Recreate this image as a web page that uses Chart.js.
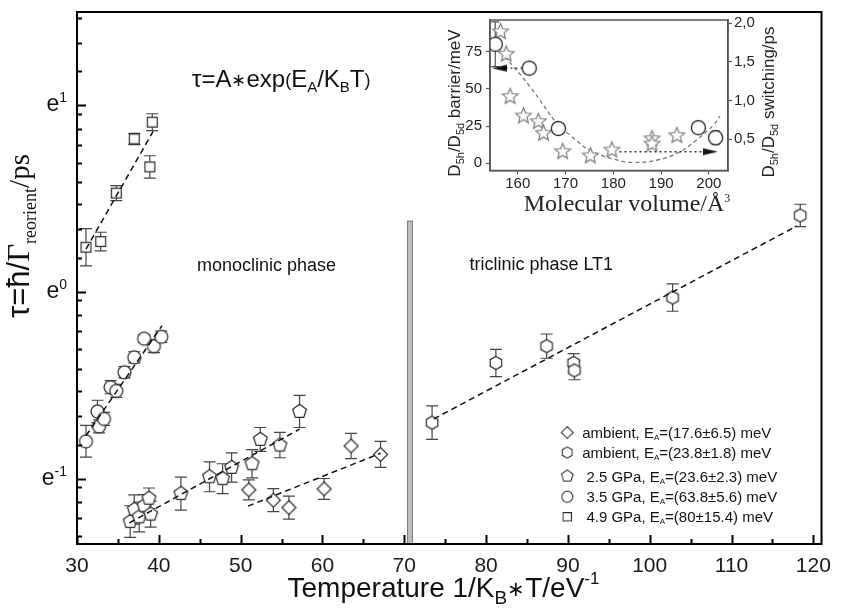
<!doctype html>
<html>
<head>
<title>Reorientation time vs 1/kT</title>
<script src="https://cdn.jsdelivr.net/npm/chart.js@4.4.0/dist/chart.umd.min.js"></script>
<style>
body{margin:0;background:#fff;}
#wrap{position:relative;width:841px;height:616px;}
#main{position:absolute;left:0;top:0;}
#inset{position:absolute;left:420px;top:0;}
</style>
</head>
<body>
<div id="wrap">
	<canvas id="main" width="841" height="616"></canvas>
	<canvas id="inset" width="421" height="230"></canvas>
</div>
<script>
// main plot: x = 1/(kB*T) in eV^-1, y = ln(tau/ps) (axis labelled in powers of e)
const gpa49X = [31.1, 32.9, 34.8, 37.0, 38.9, 39.2];
const gpa49Y = [0.24, 0.27, 0.53, 0.82, 0.67, 0.91];
const gpa49Err = [0.10, 0.05, 0.04, 0.03, 0.06, 0.045];

const gpa35X = [31.1, 32.5, 32.7, 33.3, 34.1, 34.8, 35.8, 37.0, 38.2, 39.4, 40.3];
const gpa35Y = [-0.80, -0.64, -0.72, -0.68, -0.51, -0.53, -0.43, -0.35, -0.25, -0.29, -0.24];
const gpa35Err = [0.085, 0.06, 0.035, 0.035, 0.035, 0.035, 0.03, 0.03, 0.02, 0.035, 0.03];

const gpa25X = [36.5, 37.0, 37.6, 38.2, 38.8, 39.0, 42.7, 46.2, 47.8, 48.9, 51.4, 52.4, 54.8, 57.2];
const gpa25Y = [-1.23, -1.165, -1.205, -1.145, -1.105, -1.19, -1.08, -0.99, -1.0, -0.94, -0.92, -0.79, -0.82, -0.64];
const gpa25Err = [0.085, 0.078, 0.08, 0.06, 0.055, 0.07, 0.088, 0.08, 0.08, 0.078, 0.076, 0.064, 0.068, 0.086];

const ambMonoX = [51.0, 54.0, 55.9, 60.2, 63.5, 67.1];
const ambMonoY = [-1.06, -1.115, -1.155, -1.055, -0.825, -0.87];
const ambMonoErr = [0.054, 0.062, 0.062, 0.056, 0.068, 0.07];

const ambTriX = [73.4, 81.2, 87.4, 90.7, 90.8, 102.8, 118.4];
const ambTriY = [-0.70, -0.38, -0.29, -0.38, -0.42, -0.03, 0.41];
const ambTriErr = [0.09, 0.073, 0.065, 0.05, 0.05, 0.073, 0.06];

// dashed Arrhenius fits, end points
const fit49X = [31.1, 39.3], fit49Y = [0.23, 0.86];
const fit35X = [31.1, 40.4], fit35Y = [-0.77, -0.18];
const fit25X = [36.4, 57.2], fit25Y = [-1.237, -0.735];
const fitMonoX = [50.9, 67.1], fitMonoY = [-1.147, -0.864];
const fitTriX = [73.6, 118.0], fitTriY = [-0.68, 0.354];

const phaseBoundaryX = [70.4, 71.0];
const phaseBoundaryTop = 0.38;

const xTicks = [30, 40, 50, 60, 70, 80, 90, 100, 110, 120];
const yTickExp = [-1, 0, 1];

const legendNames = ['ambient, E', 'ambient, E', ' 2.5 GPa, E', ' 3.5 GPa, E', ' 4.9 GPa, E'];
const legendValues = ['=(17.6\u00b16.5) meV', '=(23.8\u00b11.8) meV', '=(23.6\u00b12.3) meV', '=(63.8\u00b15.6) meV', '=(80\u00b115.4) meV'];

// inset: D5h/D5d barrier (stars, left) and switching time (circles, right) vs molecular volume
const insetStarX = [156.4, 157.6, 158.4, 161.2, 164.3, 165.4, 169.4, 175.2, 179.7, 188.1, 188.1, 193.3];
const insetStarY = [88.4, 73.3, 44.8, 31.8, 28.0, 20.2, 7.8, 5.0, 8.9, 16.5, 13.0, 18.6];
const insetCircX = [155.3, 162.4, 168.5, 197.8, 201.4];
const insetCircY = [1.73, 1.42, 0.64, 0.65, 0.52];
const insetCircErr = [0.29, 0.07, 0.05, 0.05, 0.09];
const insetGuideX = [157.3, 162.6, 168.5, 171, 175, 179.7, 184.2, 189.8, 194, 197.4, 200.9, 202.3];
const insetGuideY = [1.57, 1.18, 0.68, 0.55, 0.36, 0.25, 0.20, 0.24, 0.34, 0.49, 0.68, 0.80];
const arrowLeftX = [161.0, 156.2], arrowLeftY = [1.42, 1.42];
const arrowRightX = [181.3, 200.3], arrowRightY = [7.8, 7.8];

const SANS = '"Liberation Sans", Arial, sans-serif';
const SERIF = '"Liberation Serif", "Times New Roman", serif';
Chart.defaults.font.family = SANS;

function pts(xs, ys) {
	return xs.map((x, i) => ({x: x, y: ys[i]}));
}

function shape(n, R, rot, inner, stroke, lw) {
	const s = Math.ceil(2 * R + lw + 3);
	const c = document.createElement('canvas');
	c.width = c.height = s;
	const g = c.getContext('2d');
	const m = s / 2;
	const k = inner ? n * 2 : n;
	g.beginPath();
	for (let i = 0; i < k; i++) {
		const r = inner && i % 2 ? R * inner : R;
		const a = rot + i * 2 * Math.PI / k;
		g.lineTo(m + r * Math.cos(a), m + r * Math.sin(a));
	}
	g.closePath();
	g.fillStyle = '#fff';
	g.fill();
	g.strokeStyle = stroke;
	g.lineWidth = lw;
	g.stroke();
	return c;
}

function arrowHead(dir) {
	const c = document.createElement('canvas');
	c.width = 15; c.height = 9;
	const g = c.getContext('2d');
	g.beginPath();
	if (dir < 0) { g.moveTo(0, 4.5); g.lineTo(15, 1); g.lineTo(15, 8); }
	else { g.moveTo(15, 4.5); g.lineTo(0, 1); g.lineTo(0, 8); }
	g.closePath();
	g.fillStyle = '#111';
	g.fill();
	return c;
}

const MK = '#2a2a2a';
const mDiamond = shape(4, 7, -Math.PI / 2, 0, MK, 1.2);
const mHexagon = shape(6, 6.6, -Math.PI / 2, 0, MK, 1.2);
const mPentagon = shape(5, 7.2, -Math.PI / 2, 0, MK, 1.2);
const mCircle = shape(40, 6.4, 0, 0, MK, 1.2);
const mSquare = shape(4, 7, Math.PI / 4, 0, MK, 1.2);
const mStar = shape(5, 8.2, -Math.PI / 2, 0.45, '#7a7a7a', 1.2);
const mCircleInset = shape(40, 7, 0, 0, '#222', 1.3);

function drawRuns(ctx, x, y, runs) {
	runs.forEach(r => {
		ctx.font = r.f;
		ctx.fillText(r.t, x, y + (r.dy || 0));
		x += ctx.measureText(r.t).width;
	});
	return x;
}
function runsWidth(ctx, runs) {
	let w = 0;
	runs.forEach(r => { ctx.font = r.f; w += ctx.measureText(r.t).width; });
	return w;
}

// vertical error bars for every dataset that carries an "errors" array
const errorBars = {
	id: 'errorBars',
	beforeDatasetsDraw(chart) {
		const ctx = chart.ctx;
		chart.data.datasets.forEach((ds, i) => {
			if (!ds.errors) return;
			const meta = chart.getDatasetMeta(i);
			const xs = chart.scales[meta.xAxisID], ys = chart.scales[meta.yAxisID];
			ctx.save();
			ctx.strokeStyle = ds.errorColor || '#444';
			ctx.lineWidth = 1.2;
			ds.data.forEach((p, j) => {
				const e = ds.errors[j];
				const px = xs.getPixelForValue(p.x);
				const y1 = ys.getPixelForValue(p.y + e), y2 = ys.getPixelForValue(p.y - e);
				const w = ds.capWidth || 6;
				ctx.beginPath();
				ctx.moveTo(px, y1); ctx.lineTo(px, y2);
				ctx.moveTo(px - w, y1); ctx.lineTo(px + w, y1);
				ctx.moveTo(px - w, y2); ctx.lineTo(px + w, y2);
				ctx.stroke();
			});
			ctx.restore();
		});
	}
};

const mainDecor = {
	id: 'mainDecor',
	beforeDatasetsDraw(chart) {
		const ctx = chart.ctx, xs = chart.scales.x, ys = chart.scales.y;
		const x1 = xs.getPixelForValue(phaseBoundaryX[0]), x2 = xs.getPixelForValue(phaseBoundaryX[1]);
		const yt = ys.getPixelForValue(phaseBoundaryTop), yb = chart.chartArea.bottom;
		ctx.save();
		ctx.fillStyle = '#bdbdbd';
		ctx.fillRect(x1, yt, x2 - x1, yb - yt);
		ctx.strokeStyle = '#7a7a7a';
		ctx.lineWidth = 1;
		ctx.strokeRect(x1, yt, x2 - x1, yb - yt);
		ctx.restore();
	},
	afterDraw(chart) {
		const ctx = chart.ctx, a = chart.chartArea, xs = chart.scales.x, ys = chart.scales.y;
		ctx.save();
		ctx.strokeStyle = '#000';
		ctx.fillStyle = '#111';
		ctx.lineWidth = 2;
		ctx.strokeRect(a.left, a.top, a.right - a.left, a.bottom - a.top);

		// inward ticks, x: major every 10, minor every 5
		ctx.beginPath();
		for (let v = xs.min; v <= xs.max; v += 5) {
			const px = Math.round(xs.getPixelForValue(v)) + 0.5;
			const len = v % 10 === 0 ? 9 : 5;
			ctx.moveTo(px, a.bottom); ctx.lineTo(px, a.bottom - len);
		}
		// inward ticks, y: majors at e^n, minors at e^n*(1+k/5)
		for (let n = -2; n <= 1; n++) {
			for (let k = 0; k <= 8; k++) {
				const v = n + Math.log(1 + k / 5);
				if (v < ys.min || v > ys.max) continue;
				const py = Math.round(ys.getPixelForValue(v)) + 0.5;
				ctx.moveTo(a.left, py); ctx.lineTo(a.left + (k === 0 ? 9 : 5), py);
			}
		}
		ctx.stroke();

		// y tick labels e^n
		ctx.textBaseline = 'alphabetic';
		ctx.textAlign = 'left';
		yTickExp.forEach(n => {
			const py = ys.getPixelForValue(n);
			const runs = [{t: 'e', f: '23px ' + SANS, dy: 6}, {t: String(n), f: '14px ' + SANS, dy: -3}];
			drawRuns(ctx, a.left - 10 - runsWidth(ctx, runs), py, runs);
		});

		// axis titles
		const xRuns = [
			{t: 'Temperature 1/K', f: '28px ' + SANS},
			{t: 'B', f: '19px ' + SANS, dy: 7},
			{t: '\u2217', f: '21px ' + SANS, dy: -1},
			{t: 'T/eV', f: '28px ' + SANS},
			{t: '-1', f: '17px ' + SANS, dy: -13}
		];
		drawRuns(ctx, 443.5 - runsWidth(ctx, xRuns) / 2, 597, xRuns);

		const yRuns = [
			{t: '\u03c4=\u0127/', f: '31px ' + SANS},
			{t: '\u0393', f: '31px ' + SERIF},
			{t: 'reorient', f: '18px ' + SERIF, dy: 7},
			{t: '/ps', f: '29px ' + SERIF}
		];
		ctx.save();
		ctx.translate(29, 318);
		ctx.rotate(-Math.PI / 2);
		drawRuns(ctx, 0, 0, yRuns);
		ctx.restore();

		// formula and phase labels
		drawRuns(ctx, xs.getPixelForValue(44.05), ys.getPixelForValue(1.097), [
			{t: '\u03c4=A', f: '24px ' + SANS},
			{t: '\u2217', f: '18px ' + SANS, dy: -1},
			{t: 'exp', f: '24px ' + SANS},
			{t: '(', f: '18px ' + SANS, dy: -1},
			{t: 'E', f: '24px ' + SANS},
			{t: 'A', f: '15px ' + SANS, dy: 5},
			{t: '/K', f: '24px ' + SANS},
			{t: 'B', f: '15px ' + SANS, dy: 5},
			{t: 'T', f: '24px ' + SANS},
			{t: ')', f: '18px ' + SANS, dy: -1}
		]);
		ctx.font = '18px ' + SANS;
		ctx.fillText('monoclinic phase', xs.getPixelForValue(44.66), ys.getPixelForValue(0.113));
		ctx.fillText('triclinic phase LT1', xs.getPixelForValue(77.96), ys.getPixelForValue(0.119));

		// legend
		const marks = [mDiamond, mHexagon, mPentagon, mCircle, mSquare];
		const rowsY = [-0.753, -0.86, -0.986, -1.097, -1.204];
		const sx = xs.getPixelForValue(89.92);
		rowsY.forEach((v, i) => {
			const py = ys.getPixelForValue(v);
			const m = marks[i];
			ctx.save();
			ctx.translate(sx, py);
			ctx.scale(0.85, 0.85);
			ctx.drawImage(m, -m.width / 2, -m.height / 2);
			ctx.restore();
			drawRuns(ctx, sx + 15, py + 5.5, [
				{t: legendNames[i], f: '15px ' + SANS},
				{t: 'A', f: '8px ' + SANS, dy: 2},
				{t: legendValues[i], f: '15px ' + SANS}
			]);
		});
		ctx.restore();
	}
};

function scatterSet(xs, ys, errs, marker) {
	return {data: pts(xs, ys), errors: errs, pointStyle: marker, pointRadius: 7, showLine: false, capWidth: 6};
}
function fitSet(xs, ys) {
	return {data: pts(xs, ys), showLine: true, borderColor: '#111', borderWidth: 1.5, borderDash: [6, 4], pointRadius: 0, fill: false};
}

new Chart(document.getElementById('main'), {
	type: 'scatter',
	data: {
		datasets: [
			fitSet(fit49X, fit49Y),
			fitSet(fit35X, fit35Y),
			fitSet(fit25X, fit25Y),
			fitSet(fitMonoX, fitMonoY),
			fitSet(fitTriX, fitTriY),
			scatterSet(gpa49X, gpa49Y, gpa49Err, mSquare),
			scatterSet(gpa35X, gpa35Y, gpa35Err, mCircle),
			scatterSet(gpa25X, gpa25Y, gpa25Err, mPentagon),
			scatterSet(ambMonoX, ambMonoY, ambMonoErr, mDiamond),
			scatterSet(ambTriX, ambTriY, ambTriErr, mHexagon)
		]
	},
	options: {
		responsive: false,
		animation: false,
		events: [],
		layout: {padding: {top: 12, right: 13, left: 0, bottom: 0}},
		plugins: {legend: {display: false}, tooltip: {enabled: false}},
		scales: {
			x: {
				type: 'linear', min: 30, max: 121,
				afterFit(s) { s.height = 72; },
				grid: {display: false, drawTicks: false},
				border: {display: false},
				afterBuildTicks(s) { s.ticks = xTicks.map(v => ({value: v})); },
				ticks: {font: {size: 21}, color: '#1a1a1a', padding: 10, maxRotation: 0, autoSkip: false}
			},
			y: {
				type: 'linear', min: -1.35, max: 1.5,
				afterFit(s) { s.width = 77; },
				grid: {display: false, drawTicks: false},
				border: {display: false},
				ticks: {display: false}
			}
		}
	},
	plugins: [errorBars, mainDecor]
});

const insetDecor = {
	id: 'insetDecor',
	afterDraw(chart) {
		const ctx = chart.ctx, a = chart.chartArea;
		ctx.save();
		ctx.strokeStyle = '#555';
		ctx.lineWidth = 1.5;
		ctx.strokeRect(a.left, a.top, a.right - a.left, a.bottom - a.top);
		ctx.fillStyle = '#222';
		const sub = (t) => [
			{t: 'D', f: '17px ' + SANS}, {t: '5h', f: '11px ' + SANS, dy: 4},
			{t: '/D', f: '17px ' + SANS}, {t: '5d', f: '11px ' + SANS, dy: 4},
			{t: t, f: '17px ' + SANS}
		];
		const left = sub(' barrier/meV');
		ctx.save();
		ctx.translate(40, 103 + runsWidth(ctx, left) / 2);
		ctx.rotate(-Math.PI / 2);
		drawRuns(ctx, 0, 0, left);
		ctx.restore();
		const right = sub(' switching/ps');
		ctx.save();
		ctx.translate(354, 102 + runsWidth(ctx, right) / 2);
		ctx.rotate(-Math.PI / 2);
		drawRuns(ctx, 0, 0, right);
		ctx.restore();
		const bottom = [{t: 'Molecular volume/\u00c5', f: '24px ' + SERIF}, {t: '3', f: '12px ' + SERIF, dy: -9}];
		drawRuns(ctx, 207 - runsWidth(ctx, bottom) / 2, 211, bottom);
		ctx.restore();
	}
};

const insetTicks = (extra) => Object.assign({
	grid: {drawOnChartArea: false, tickLength: 4, color: '#555', tickWidth: 1.2},
	border: {color: '#555', width: 1.5}
}, extra);

new Chart(document.getElementById('inset'), {
	type: 'scatter',
	data: {
		datasets: [
			{data: pts(arrowLeftX, arrowLeftY), yAxisID: 'y2', showLine: true, borderColor: '#333', borderWidth: 1.3, borderDash: [2, 3], pointStyle: arrowHead(-1), pointRadius: [0, 5]},
			{data: pts(arrowRightX, arrowRightY), yAxisID: 'y', showLine: true, borderColor: '#333', borderWidth: 1.3, borderDash: [2, 3], pointStyle: arrowHead(1), pointRadius: [0, 5]},
			{data: pts(insetCircX, insetCircY), yAxisID: 'y2', errors: insetCircErr, errorColor: '#555', capWidth: 4, pointStyle: mCircleInset, pointRadius: 7},
			{data: pts(insetStarX, insetStarY), yAxisID: 'y', pointStyle: mStar, pointRadius: 8},
			{data: pts(insetGuideX, insetGuideY), yAxisID: 'y2', showLine: true, borderColor: '#707070', borderWidth: 1.2, borderDash: [4, 3], tension: 0.4, pointRadius: 0}
		]
	},
	options: {
		responsive: false,
		animation: false,
		events: [],
		layout: {padding: {top: 20, right: 0, left: 0, bottom: 0}},
		plugins: {legend: {display: false}, tooltip: {enabled: false}},
		scales: {
			x: insetTicks({
				type: 'linear', min: 154.2, max: 204,
				afterFit(s) { s.height = 59.5; },
				ticks: {stepSize: 10, includeBounds: false, font: {size: 15}, color: '#222', padding: 0, maxRotation: 0}
			}),
			y: insetTicks({
				type: 'linear', position: 'left', min: -4.8, max: 96.3,
				afterFit(s) { s.width = 70; },
				ticks: {stepSize: 25, includeBounds: false, font: {size: 15}, color: '#222', padding: 4}
			}),
			y2: insetTicks({
				type: 'linear', position: 'right', min: 0.096, max: 2.043,
				afterFit(s) { s.width = 113; },
				ticks: {stepSize: 0.5, includeBounds: false, font: {size: 15}, color: '#222', padding: 2,
					callback: v => v.toFixed(1).replace('.', ',')}
			})
		}
	},
	plugins: [errorBars, insetDecor]
});
</script>
</body>
</html>
